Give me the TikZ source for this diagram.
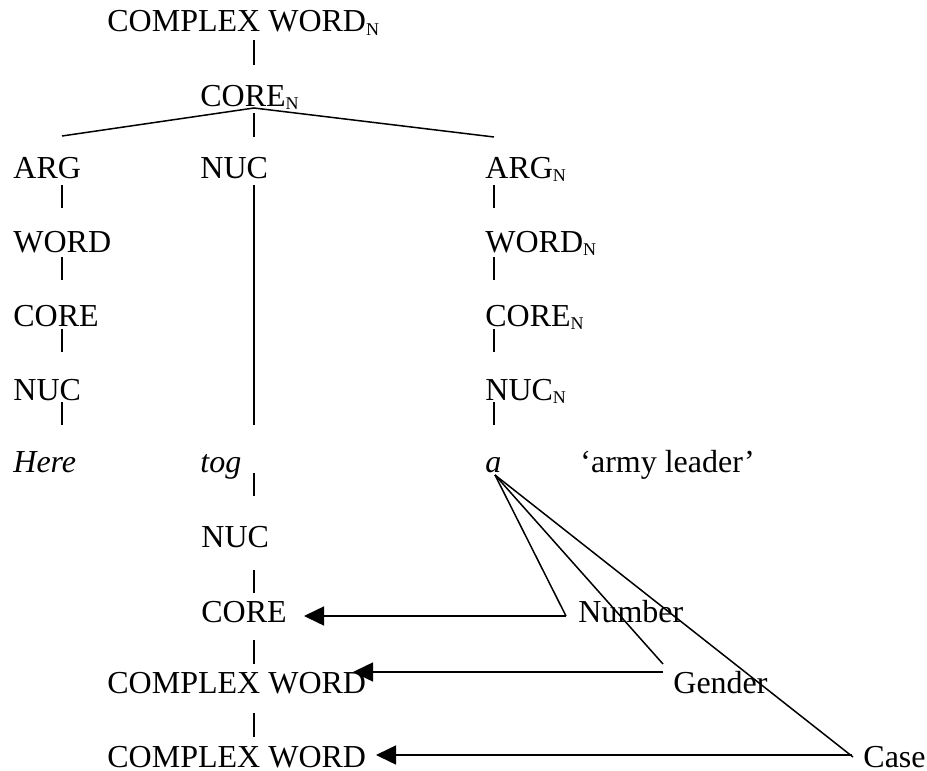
\documentclass[tikz,border=0pt]{standalone}
\usepackage{fontspec}
\setmainfont{Liberation Serif}
\usetikzlibrary{arrows.meta}
\newcommand{\subN}{\raisebox{-0.12em}{\fontsize{9}{9}\selectfont N}}
\begin{document}
\begin{tikzpicture}[x=0.5pt,y=-0.5pt,
  lbl/.style={anchor=base west,inner sep=0pt,font=\fontsize{16}{19}\selectfont},
  ln/.style={line width=0.75pt},
  arr/.style={line width=0.75pt,-{Triangle[length=10pt,width=9.5pt]}}]
\useasboundingbox (0,0) rectangle (927,771);
% labels
\node[lbl] (cwN) at (107,32) {COMPLEX WORD\subN};
\node[lbl] (coreN) at (200,106) {CORE\subN};
\node[lbl] (arg) at (13,178) {ARG};
\node[lbl] (nucm) at (200,178) {NUC};
\node[lbl] (argN) at (485,178) {ARG\subN};
\node[lbl] (word) at (13,252) {WORD};
\node[lbl] (wordN) at (485,252) {WORD\subN};
\node[lbl] (corel) at (13,326) {CORE};
\node[lbl] (coreNr) at (485,326) {CORE\subN};
\node[lbl] (nucl) at (13,400) {NUC};
\node[lbl] (nucNr) at (485,400) {NUC\subN};
\node[lbl] (here) at (13,472) {\itshape Here};
\node[lbl] (tog) at (200,472) {\itshape tog};
\node[lbl] (a) at (485,472) {\itshape a};
\node[lbl] (gloss) at (580,472) {‘army leader’};
\node[lbl] (nucb) at (201,547) {NUC};
\node[lbl] (coreb) at (201,622) {CORE};
\node[lbl] (number) at (578,622) {Number};
\node[lbl] (cw1) at (107,693) {COMPLEX WORD};
\node[lbl] (gender) at (673,693) {Gender};
\node[lbl] (cw2) at (107,767) {COMPLEX WORD};
\node[lbl] (case) at (863,767) {Case};
% coordinates
\coordinate (apex) at (254,108);
\coordinate (lb) at (62,136);
\coordinate (rb) at (494,137);
\coordinate (ao) at (495,475);
\coordinate (numc) at (566,616);
\coordinate (gendc) at (663,664);
\coordinate (gendh) at (663,672);
\coordinate (casec) at (853,757);
\coordinate (caseh) at (852,755);
\coordinate (t1) at (304,616);
\coordinate (t2) at (353,672);
\coordinate (t3) at (376,755);
% tree lines
\draw[ln] (254,40) -- (254,65);
\draw[ln] (lb) -- (apex) -- (rb);
\draw[ln] (254,113) -- (254,137);
\foreach \y in {185,257,329,402}{
  \draw[ln] (62,\y) -- (62,\y+23);
  \draw[ln] (494,\y) -- (494,\y+23);
}
\draw[ln] (254,185) -- (254,425);
\draw[ln] (254,473) -- (254,496);
\draw[ln] (254,570) -- (254,593);
\draw[ln] (254,640) -- (254,664);
\draw[ln] (254,713) -- (254,737);
% agreement lines
\draw[ln] (ao) -- (numc);
\draw[arr] (numc) -- (t1);
\draw[ln] (ao) -- (gendc);
\draw[arr] (gendh) -- (t2);
\draw[ln] (ao) -- (casec);
\draw[arr] (caseh) -- (t3);
\end{tikzpicture}
\end{document}
